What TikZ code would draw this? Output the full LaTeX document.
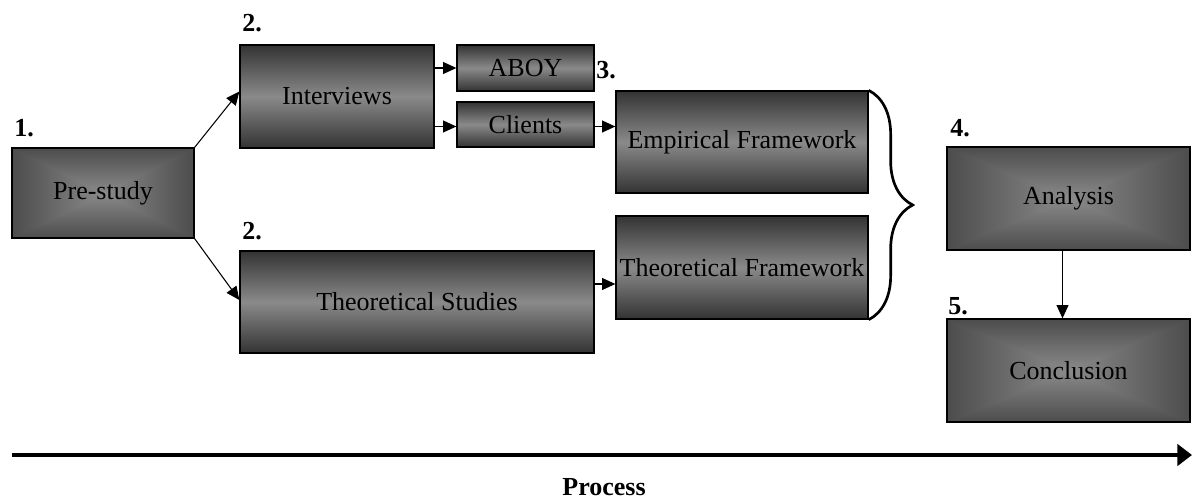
\documentclass[tikz,border=0pt]{standalone}
\usepackage{fontspec}
\setmainfont{Liberation Serif}
\usetikzlibrary{arrows.meta,backgrounds,decorations.pathreplacing,calc}
\definecolor{boxdark}{HTML}{333333}
\definecolor{boxlight}{HTML}{8A8A8A}

% grey that brightens towards the centre, with rectangular contour lines
% (the path box covers the inner 70.7bp of the 100bp shading square)
\pgfdeclarefunctionalshading{rectcenter}{\pgfpoint{-50bp}{-50bp}}{\pgfpoint{50bp}{50bp}}{}{
  abs exch abs 2 copy lt {exch} if pop 35.36 div
  dup 1 gt {pop 1} if
  -0.341 mul 0.541 add dup dup
}

\begin{document}
\begin{tikzpicture}[x=0.75pt,y=-0.75pt,
  every node/.style={font=\fontsize{19.5}{22}\selectfont},
  box/.style={draw=black,line width=1pt,inner sep=0pt},
  vbox/.style={box,top color=boxdark,bottom color=boxdark,middle color=boxlight},
  cbox/.style={box,shading=rectcenter},
  num/.style={font=\fontsize{19.5}{22}\selectfont\bfseries,inner sep=0pt},
  link/.style={line width=0.8pt,-{Triangle[length=10pt,width=9pt]}},
]
\useasboundingbox (0,0) rectangle (1192,501);

% boxes
\node[cbox,minimum width=136.5pt,minimum height=67.5pt] (pre) at (103,193) {Pre-study};
\node[vbox,minimum width=145.5pt,minimum height=77.25pt] (int) at (337,96.5) {Interviews};
\node[vbox,minimum width=102.75pt,minimum height=34.5pt] (aboy) at (525.5,68) {ABOY};
\node[vbox,minimum width=102.75pt,minimum height=33.75pt] (cli) at (525.5,124.5) {Clients};
\node[vbox,minimum width=265.5pt,minimum height=76.5pt] (ts) at (417,302) {Theoretical Studies};
\node[vbox,minimum width=189pt,minimum height=76.5pt] (emp) at (742,142) {Empirical Framework};
\node[vbox,minimum width=189pt,minimum height=77.25pt] (tf) at (742,267.5) {Theoretical Framework};
\node[cbox,minimum width=182.25pt,minimum height=77.25pt] (ana) at (1068.5,198.5) {Analysis};
\node[cbox,minimum width=182.25pt,minimum height=77.25pt] (con) at (1068.5,370.5) {Conclusion};

% step numbers
\node[num] (n1) at (24,128) {1.};
\node[num] (n2a) at (252,23) {2.};
\node[num] (n2b) at (252,231) {2.};
\node[num] (n3) at (606,70) {3.};
\node[num] (n4) at (960,128) {4.};
\node[num] (n5) at (958,306) {5.};

% connectors
\draw[link] (pre.north east) -- ($(int.west)+(0,-5)$);
\draw[link] (pre.south east) -- ($(ts.west)+(0,-2)$);
\draw[link] (int.east |- aboy.west) -- (aboy.west);
\draw[link] ($(int.east |- cli.west)+(0,2)$) -- ($(cli.west)+(0,2)$);
\draw[link] ($(cli.east)+(0,2)$) -- ($(emp.west |- cli.east)+(0,2)$);
\draw[link] ($(ts.east)+(0,-18)$) -- ($(tf.west |- ts.east)+(0,-18)$);
\draw[link] ($(ana.south)+(-6,0)$) -- ($(con.north)+(-6,0)$);

% brace joining both frameworks
\draw[line width=2pt,decorate,decoration={brace,amplitude=33pt}]
  (emp.north east) -- (tf.south east);

% process axis
\coordinate (pstart) at (12,455);
\coordinate (pend) at (1192,455);
\draw[line width=3pt,-{Triangle[length=11pt,width=16pt]}] (pstart) -- (pend);
\node[num] (proc) at (604,487) {Process};
\end{tikzpicture}
\end{document}
